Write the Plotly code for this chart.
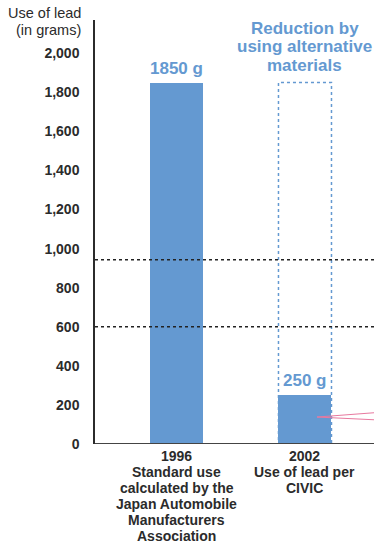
import plotly.graph_objects as go

# Lead usage data
years = ["1996", "2002"]
descriptions = [
    ["Standard use", "calculated by the", "Japan Automobile", "Manufacturers", "Association"],
    ["Use of lead per", "CIVIC"],
]
lead_grams = [1850, 250]
value_labels = ["1850 g", "250 g"]
y_ticks = [0, 200, 400, 600, 800, 1000, 1200, 1400, 1600, 1800, 2000]
guide_levels = [943, 600]
reduction_lines = ["Reduction by", "using alternative", "materials"]
axis_title_lines = ["Use of lead", "(in grams)"]

BLUE = "#6499d1"
TEXT = "#2b2b2b"
FONT = "Liberation Sans, Arial, sans-serif"

# Plot area geometry (pixels) used to place stacked text lines
TOP, BOTTOM = 20, 444
PLOT_H = BOTTOM - TOP


def paper_y(py):
    return (BOTTOM - py) / PLOT_H


xs = list(range(len(years)))
bar_w = 0.414

fig = go.Figure()
fig.add_trace(go.Bar(
    x=xs, y=lead_grams, width=bar_w,
    marker=dict(color=BLUE, line=dict(width=0)),
    hoverinfo="skip", showlegend=False,
))

# Value labels above bars
for x, v, lab in zip(xs, lead_grams, value_labels):
    fig.add_annotation(x=x, y=v, text=f"<b>{lab}</b>", showarrow=False,
                       yanchor="bottom", yshift=3,
                       font=dict(family=FONT, size=17, color=BLUE))

# Category labels under the axis, one line per annotation
for x, yr, desc in zip(xs, years, descriptions):
    lines = [yr] + desc
    for i, ln in enumerate(lines):
        fig.add_annotation(x=x, yref="paper", y=paper_y(456 + 16 * i),
                           text=f"<b>{ln}</b>", showarrow=False, yanchor="middle",
                           borderpad=0,
                           font=dict(family=FONT, size=14, color=TEXT))

# Dotted outline showing the earlier level over the 2002 bar
fig.add_shape(type="rect", x0=1 - bar_w / 2, x1=1 + bar_w / 2,
              y0=0, y1=lead_grams[0],
              line=dict(color=BLUE, width=1.5, dash="dot"), layer="above")

for i, ln in enumerate(reduction_lines):
    fig.add_annotation(x=1, yref="paper", y=paper_y(28 + 18.5 * i),
                       text=f"<b>{ln}</b>", showarrow=False, yanchor="middle",
                       font=dict(family=FONT, size=17, color=BLUE))

# Horizontal dotted guides
for lv in guide_levels:
    fig.add_shape(type="line", xref="paper", x0=0, x1=1, y0=lv, y1=lv,
                  line=dict(color="#222222", width=1.5, dash="dot"), layer="above")

# Pink pointer lines
fig.add_shape(type="line", x0=1.094, x1=1.54, y0=138, y1=160,
              line=dict(color="#e8799f", width=1), layer="above")
fig.add_shape(type="line", x0=1.094, x1=1.54, y0=138, y1=124,
              line=dict(color="#e8799f", width=1), layer="above")

# Axis title
for i, ln in enumerate(axis_title_lines):
    fig.add_annotation(xref="paper", yref="paper", x=-0.043, y=paper_y(13 + 17 * i),
                       xanchor="right", yanchor="middle",
                       text=ln, showarrow=False,
                       font=dict(family=FONT, size=14.5, color=TEXT))

fig.update_layout(
    width=374, height=544,
    margin=dict(l=95, r=0, t=TOP, b=544 - BOTTOM),
    paper_bgcolor="white", plot_bgcolor="white",
    bargap=0,
    xaxis=dict(range=[-0.64, 1.539], showticklabels=False, showgrid=False,
               zeroline=False, showline=False, fixedrange=True),
    yaxis=dict(range=[0, 2170], tickvals=y_ticks,
               ticktext=[f"<b>{t:,}</b>" for t in y_ticks],
               showgrid=False, zeroline=False, showline=True,
               linecolor=TEXT, linewidth=1.5, ticks="",
               ticklabelstandoff=11,
               tickfont=dict(family=FONT, size=14, color=TEXT)),
    font=dict(family=FONT, color=TEXT),
)

# Baseline
fig.add_shape(type="line", xref="paper", x0=0, x1=1, y0=0, y1=0,
              line=dict(color="#444444", width=2), layer="above")

fig.write_html("out.html")
